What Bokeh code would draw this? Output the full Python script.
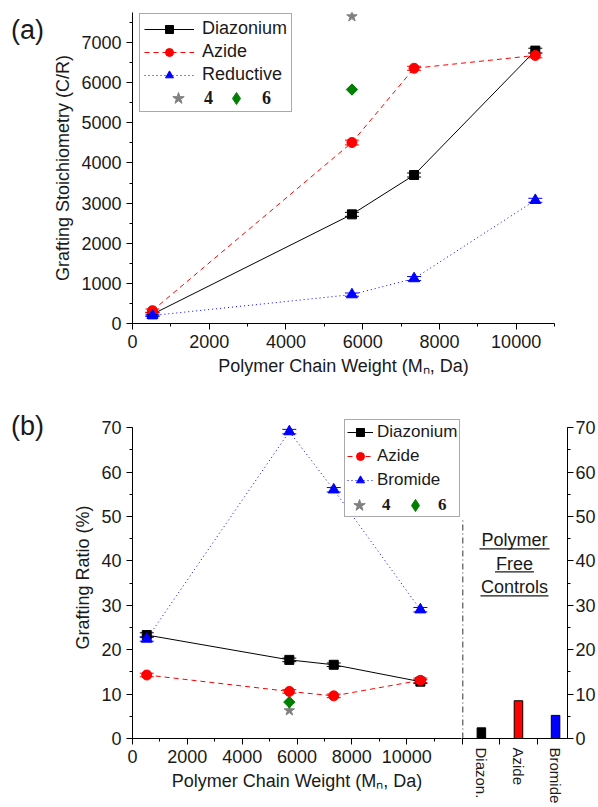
import numpy as np
from bokeh.plotting import figure
from bokeh.layouts import column, row
from bokeh.models import (ColumnDataSource, Legend, LegendItem, Label, Whisker, TeeHead, Div,
                          SingleIntervalTicker, FixedTicker, Range1d, CustomJSTickFormatter)
from bokeh.embed import file_html
from bokeh.resources import INLINE

# ---------------- data ----------------
mn = [520, 5720, 7340, 10500]
mn_special = [5720]

a_diazonium = [230, 2720, 3700, 6800]
a_diazonium_err = [40, 50, 50, 60]
a_azide = [320, 4510, 6360, 6680]
a_azide_err = [40, 60, 50, 60]
a_reductive = [200, 720, 1120, 3070]
a_reductive_err = [30, 40, 50, 50]
a_cmpd4 = [7650]
a_cmpd6 = [5830]

b_diazonium = [23.3, 17.7, 16.6, 12.8]
b_diazonium_err = [0.5, 0.4, 0.4, 0.4]
b_azide = [14.3, 10.6, 9.6, 13.1]
b_azide_err = [0.4, 0.4, 0.4, 0.5]
b_bromide = [22.4, 69.1, 56.0, 29.0]
b_bromide_err = [0.5, 0.5, 0.5, 0.5]
b_cmpd4 = [6.3]
b_cmpd6 = [8.2]

control_cats = ["Diazon.", "Azide", "Bromide"]
control_vals = [2.4, 8.5, 5.2]
control_colors = ["black", "red", "blue"]

FONT = "Liberation Sans"
TXT = "#1a1a1a"
DIV_W = 48

STYLES = {
    "d": dict(color="black", dash="solid", marker="square", size=9),
    "a": dict(color="red", dash="5 4", marker="circle", size=10),
    "r": dict(color="blue", dash="1 3", marker="triangle", size=11),
}


def style_axis(ax, label_standoff=5):
    ax.axis_line_color = "black"
    ax.axis_line_width = 1
    ax.major_tick_line_color = "black"
    ax.minor_tick_line_color = "black"
    ax.major_tick_out = 6
    ax.major_tick_in = 0
    ax.minor_tick_out = 3
    ax.minor_tick_in = 0
    ax.major_label_text_font = FONT
    ax.major_label_text_font_size = "18px"
    ax.major_label_text_color = TXT
    ax.major_label_standoff = label_standoff
    ax.axis_label_text_font = FONT
    ax.axis_label_text_font_size = "18px"
    ax.axis_label_text_font_style = "normal"
    ax.axis_label_text_color = TXT


def series(p, x, y, err, key, cap=14):
    st = STYLES[key]
    y = np.array(y, dtype=float)
    e = np.array(err, dtype=float)
    src = ColumnDataSource(dict(x=x, y=y, lo=y - e, hi=y + e))
    ln = p.line("x", "y", source=src, line_color=st["color"], line_dash=st["dash"], line_width=1)
    p.add_layout(Whisker(base="x", upper="hi", lower="lo", source=src, dimension="height",
                         line_color=st["color"], line_width=1,
                         upper_head=TeeHead(size=cap, line_color=st["color"], line_width=1),
                         lower_head=TeeHead(size=cap, line_color=st["color"], line_width=1)))
    sc = p.scatter("x", "y", source=src, marker=st["marker"], size=st["size"],
                   fill_color=st["color"], line_color=st["color"])
    return [ln, sc]


def specials(p, y4, y6):
    s4 = p.scatter(mn_special, y4, marker="star", size=11, fill_color="gray", line_color="gray")
    # diamond marker (used for the legend swatch), overdrawn by a square turned 45 degrees
    s6 = p.scatter(mn_special, y6, marker="diamond", size=10, fill_color="green", line_color="green")
    p.scatter(mn_special, y6, marker="square", angle=np.pi / 4, size=8,
              fill_color="green", line_color="green")
    return s4, s6


def add_legends(p, items, loc, font_size, padding, glyph_w, standoff, spacing,
                star_r, dia_r, sub_x, sub_standoff, sub_spacing):
    dummy = p.scatter(x=[], y=[], size=1, fill_alpha=0, line_alpha=0)
    main = Legend(items=[LegendItem(label=l, renderers=r) for l, r in items] +
                  [LegendItem(label=" ", renderers=[dummy])],
                  location=loc, orientation="vertical", padding=padding, margin=0,
                  spacing=spacing, glyph_width=glyph_w, glyph_height=20, label_height=20,
                  label_standoff=standoff, label_text_font=FONT, label_text_font_size=font_size,
                  label_text_color=TXT, border_line_color="#555555", border_line_width=1.5,
                  background_fill_color="white", background_fill_alpha=1)
    p.add_layout(main)
    sub = Legend(items=[LegendItem(label="4", renderers=[star_r]),
                        LegendItem(label="6", renderers=[dia_r])],
                 location=(sub_x, loc[1] + padding - 5), orientation="horizontal",
                 padding=0, margin=0, spacing=sub_spacing, glyph_width=30, glyph_height=30,
                 label_height=20, label_width=15, label_standoff=sub_standoff,
                 label_text_font="Liberation Serif", label_text_font_style="bold",
                 label_text_font_size=font_size, label_text_color=TXT,
                 border_line_color=None, background_fill_alpha=0)
    p.add_layout(sub)


def panel_tag(text, height, top_pad):
    return Div(text=f'<div style="font-family:\'{FONT}\';font-size:27px;color:{TXT};'
                    f'padding-left:11px;padding-top:{top_pad}px;line-height:31px">{text}</div>',
               width=DIV_W, height=height, margin=0)


# ---------------- panel (a) ----------------
HA = 395
pa = figure(width=598 - DIV_W, height=HA, x_range=Range1d(0, 11000), y_range=Range1d(0, 7750),
            output_backend="svg", toolbar_location=None,
            min_border_left=132 - DIV_W, min_border_right=44, min_border_top=12,
            min_border_bottom=HA - 323)
pa.outline_line_color = None
pa.grid.visible = False
pa.xaxis.ticker = SingleIntervalTicker(interval=2000, num_minor_ticks=2)
pa.yaxis.ticker = SingleIntervalTicker(interval=1000, num_minor_ticks=2)
pa.xaxis.axis_label = "Polymer Chain Weight (M\u2099, Da)"
pa.yaxis.axis_label = "Grafting Stoichiometry (C/R)"
style_axis(pa.xaxis[0])
style_axis(pa.yaxis[0])

ra_d = series(pa, mn, a_diazonium, a_diazonium_err, "d")
ra_a = series(pa, mn, a_azide, a_azide_err, "a")
ra_r = series(pa, mn, a_reductive, a_reductive_err, "r")
sa4, sa6 = specials(pa, a_cmpd4, a_cmpd6)

add_legends(pa, [("Diazonium", ra_d), ("Azide", ra_a), ("Reductive", ra_r)],
            loc=(7, 211), font_size="18px", padding=4, glyph_w=50, standoff=8, spacing=2,
            star_r=sa4, dia_r=sa6, sub_x=31, sub_standoff=11, sub_spacing=2)

# ---------------- panel (b) ----------------
HB = 807 - HA
FRAME_TOP, FRAME_BOTTOM = 416, 738
SPLIT_PX = 461
YR = Range1d(0, 72.5)
XSPLIT = 12000
CAT_W = 1400
XR_CTRL = Range1d(11950, 15950)

common = dict(height=HB, y_range=YR, output_backend="svg", toolbar_location=None,
              min_border_top=FRAME_TOP - HA, min_border_bottom=HB - (FRAME_BOTTOM - HA))

# left: grafting ratio vs chain weight
pb = figure(width=SPLIT_PX - DIV_W, x_range=Range1d(0, XSPLIT),
            min_border_left=132 - DIV_W, min_border_right=0, **common)
pb.outline_line_color = None
pb.grid.visible = False
pb.xaxis.ticker = FixedTicker(ticks=[0, 2000, 4000, 6000, 8000, 10000],
                              minor_ticks=[1000, 3000, 5000, 7000, 9000, 11000])
pb.xaxis.axis_label = "Polymer Chain Weight (M\u2099, Da)"
pb.yaxis.ticker = SingleIntervalTicker(interval=10, num_minor_ticks=2)
pb.yaxis.bounds = (0, 70)
pb.yaxis.axis_label = "Grafting Ratio (%)"
style_axis(pb.xaxis[0])
style_axis(pb.yaxis[0])

rb_d = series(pb, mn, b_diazonium, b_diazonium_err, "d")
rb_a = series(pb, mn, b_azide, b_azide_err, "a")
rb_b = series(pb, mn, b_bromide, b_bromide_err, "r")
sb4, sb6 = specials(pb, b_cmpd4, b_cmpd6)

add_legends(pb, [("Diazonium", rb_d), ("Azide", rb_a), ("Bromide", rb_b)],
            loc=(212, 221), font_size="17px", padding=2, glyph_w=26, standoff=4, spacing=4,
            star_r=sb4, dia_r=sb6, sub_x=212, sub_standoff=8, sub_spacing=3)

# right: polymer-free controls
pc = figure(width=598 - SPLIT_PX, x_range=XR_CTRL, y_axis_location="right",
            min_border_left=0, min_border_right=28, **common)
pc.outline_line_color = None
pc.grid.visible = False

cat_x = XSPLIT + (np.arange(len(control_cats)) + 0.5) * CAT_W
cat_bounds = [XSPLIT + i * CAT_W for i in range(len(control_cats))]

pc.yaxis.ticker = SingleIntervalTicker(interval=10, num_minor_ticks=2)
pc.yaxis.bounds = (0, 70)
style_axis(pc.yaxis[0], label_standoff=2)
cax = pc.xaxis[0]
cax.ticker = FixedTicker(ticks=list(cat_x), minor_ticks=cat_bounds)
cax.formatter = CustomJSTickFormatter(args=dict(names=control_cats), code="return names[index]")
style_axis(cax, label_standoff=3)
cax.major_tick_line_color = None
cax.minor_tick_out = 6
cax.major_label_orientation = "vertical"
cax.major_label_text_font_size = "15px"

pc.vbar(x=cat_x, top=control_vals, width=CAT_W * 0.23, fill_color=control_colors,
        line_color="black", line_width=1)
pc.segment(x0=[XSPLIT], y0=[0], x1=[XSPLIT], y1=[49.5], line_color="#333333",
           line_dash="6 3 1 3", line_width=1)

# "Polymer Free Controls" heading, underlined
ctrl_w_px = 570 - SPLIT_PX
px_per_unit = ctrl_w_px / (XR_CTRL.end - XR_CTRL.start)
xc = (XR_CTRL.start + XR_CTRL.end) / 2
for txt, yc, w_px in [("Polymer", 44.6, 72), ("Free", 39.4, 40), ("Controls", 34.0, 70)]:
    pc.add_layout(Label(x=xc, y=yc, text=txt, text_font=FONT, text_font_size="18px",
                        text_color=TXT, text_align="center", text_baseline="middle"))
    half = w_px / 2 / px_per_unit
    pc.segment(x0=[xc - half], y0=[yc - 1.9], x1=[xc + half], y1=[yc - 1.9],
               line_color=TXT, line_width=1.2)

layout = column(row(panel_tag("(a)", HA, 15), pa, spacing=0),
                row(panel_tag("(b)", HB, 16), pb, pc, spacing=0), spacing=0)
open("out.html", "w").write(file_html(layout, INLINE))
